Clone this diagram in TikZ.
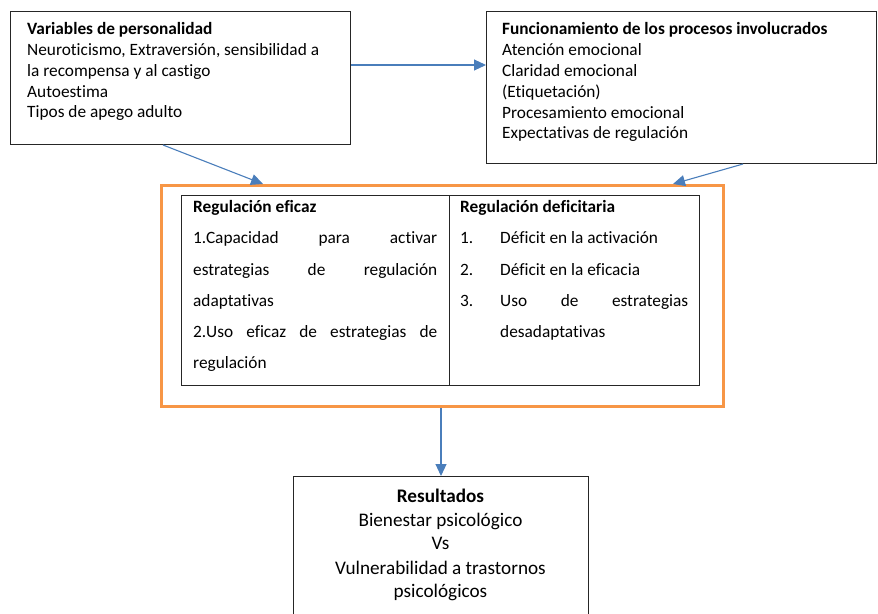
\documentclass[tikz,border=0pt]{standalone}
\usepackage{fontspec}
\setmainfont{Carlito}[Ligatures=NoCommon]
\usetikzlibrary{arrows.meta,calc}
\definecolor{arrowblue}{HTML}{4A7EBB}
\definecolor{frameorange}{HTML}{F79646}
\begin{document}
\begin{tikzpicture}[x=1pt,y=-1pt,
  box/.style={draw=black!85, line width=1pt, inner sep=0pt, anchor=north west},
  txt/.style={anchor=base west, inner sep=0pt, font=\fontsize{17.3}{20}\selectfont},
  ctxt/.style={anchor=base, inner sep=0pt, font=\fontsize{19.2}{22}\selectfont},
  link/.style={draw=arrowblue, line width=1.1pt, -{Triangle[length=12pt,width=11pt]}}]
\useasboundingbox (0,0) rectangle (878,613);
\clip (0,0) rectangle (878,613);
\fill[white] (0,0) rectangle (878,613);

% boxes
\node[box, minimum width=340pt, minimum height=133pt] (pers) at (10,11) {};
\node[box, minimum width=390pt, minimum height=152pt] (proc) at (486,11) {};
\node[box, draw=frameorange, line width=3.4pt, minimum width=562pt, minimum height=221pt] (frame) at (160,184) {};
\node[box, minimum width=267.5pt, minimum height=190pt] (cellL) at (181,195) {};
\node[box, minimum width=250.5pt, minimum height=190pt] (cellR) at (448.5,195) {};
\node[box, minimum width=295pt, minimum height=200pt] (res) at (293,476) {};

% personality variables
\node[txt] (p1) at (27,34) {\textbf{Variables de personalidad}};
\node[txt] (p2) at (27,55) {Neuroticismo, Extraversión, sensibilidad a};
\node[txt] (p3) at (27,76) {la recompensa y al castigo};
\node[txt] (p4) at (27,97) {Autoestima};
\node[txt] (p5) at (27,117) {Tipos de apego adulto};

% processes
\node[txt] (q1) at (502,34) {\textbf{Funcionamiento de los procesos involucrados}};
\node[txt] (q2) at (502,55) {Atención emocional};
\node[txt] (q3) at (502,76) {Claridad emocional};
\node[txt] (q4) at (502,97) {(Etiquetación)};
\node[txt] (q5) at (502,118) {Procesamiento emocional};
\node[txt] (q6) at (502,138) {Expectativas de regulación};

% effective regulation
\node[txt] (e1) at (193,212) {\textbf{Regulación eficaz}};
\node[txt] (e2) at (193,243) {\makebox[244pt][s]{1.Capacidad para activar}};
\node[txt] (e3) at (193,275) {\makebox[244pt][s]{estrategias de regulación}};
\node[txt] (e4) at (193,306) {adaptativas};
\node[txt] (e5) at (193,337) {\makebox[244pt][s]{2.Uso eficaz de estrategias de}};
\node[txt] (e6) at (193,368) {regulación};

% deficient regulation
\node[txt] (d1) at (460,212) {\textbf{Regulación deficitaria}};
\node[txt] (n1) at (460,243) {1.};
\node[txt] (d2) at (500,243) {Déficit en la activación};
\node[txt] (n2) at (460,275) {2.};
\node[txt] (d3) at (500,275) {Déficit en la eficacia};
\node[txt] (n3) at (460,306) {3.};
\node[txt] (d4) at (500,306) {\makebox[188pt][s]{Uso de estrategias}};
\node[txt] (d5) at (500,337) {desadaptativas};

% results
\node[ctxt] (r1) at (440.5,502) {\textbf{Resultados}};
\node[ctxt] (r2) at (440.5,526) {Bienestar psicológico};
\node[ctxt] (r3) at (440.5,549) {Vs};
\node[ctxt] (r4) at (440.5,574) {Vulnerabilidad a trastornos};
\node[ctxt] (r5) at (440.5,597) {psicológicos};

% connectors
\draw[link] ($(pers.north east)+(0,54)$) -- ($(proc.north west)+(0,54)$);
\draw[link] ($(pers.south west)+(153,0)$) -- ($(frame.north west)+(103,0)$);
\draw[link] ($(proc.south west)+(257,0)$) -- ($(frame.north west)+(513,0)$);
\draw[link] (res.north |- frame.south) -- (res.north);
\end{tikzpicture}
\end{document}
